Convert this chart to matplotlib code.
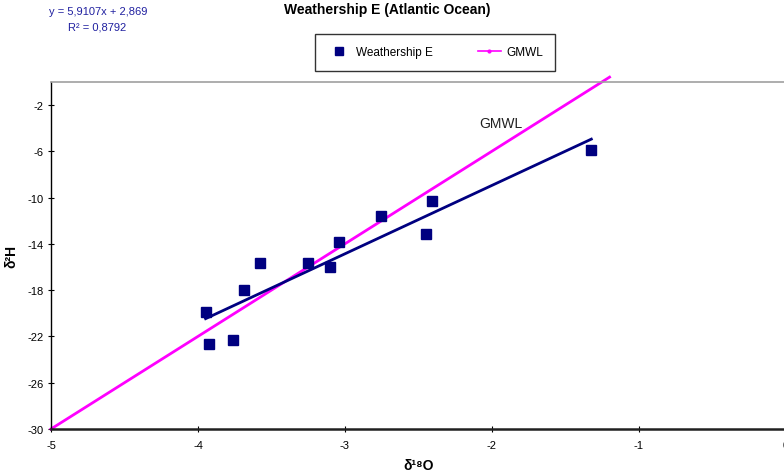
import matplotlib
matplotlib.use('Agg')
import matplotlib.pyplot as plt
from matplotlib.lines import Line2D
import numpy as np

# data
d18o = [-3.948, -3.923, -3.760, -3.689, -3.576, -3.250, -3.100, -3.039,
        -2.753, -2.449, -2.410, -1.324]
d2h = [-19.87, -22.66, -22.29, -17.97, -15.64, -15.64, -16.04, -13.85,
       -11.63, -13.13, -10.34, -5.91]
gmwl_x = [-5.0, -1.2]
slope, intercept = 5.9107, 2.869
r2 = 0.8792
yticks = [-30, -26, -22, -18, -14, -10, -6, -2]
xticks = [-5, -4, -3, -2, -1, 0]

navy = '#000080'
magenta = '#FF00FF'
fam = ['Liberation Sans', 'DejaVu Sans']
plt.rcParams['font.family'] = fam
plt.rcParams['axes.unicode_minus'] = False

fig = plt.figure(figsize=(7.84, 4.77), dpi=100)
ax = fig.add_axes([0.065, 0.0985, 0.9375, 0.728])

# GMWL: d2H = 8 * d18O + 10
gx = np.array(gmwl_x)
ax.plot(gx, 8 * gx + 10, color=magenta, lw=2, clip_on=False, zorder=2)

# linear trend of the ship data
tx = np.array([min(d18o), max(d18o)])
ax.plot(tx, slope * tx + intercept, color=navy, lw=2, zorder=3)

ax.plot(d18o, d2h, 's', color=navy, ms=7, zorder=4)

ax.set_xlim(-5, 0)
ax.set_ylim(-30, 0)
ax.set_xticks(xticks)
ax.set_yticks(yticks)
ax.tick_params(labelsize=8, length=4, direction='inout')
ax.tick_params(axis='x', pad=6)
ax.spines['right'].set_visible(False)
ax.spines['top'].set_color('#A0A0A0')
ax.spines['top'].set_linewidth(1.2)
ax.spines['left'].set_linewidth(1)
ax.spines['bottom'].set_linewidth(1.8)
ax.spines['bottom'].set_color('#202020')

ax.set_xlabel('δ¹⁸O', fontsize=10, fontweight='bold', labelpad=6)
ax.set_ylabel('δ²H', fontsize=10, fontweight='bold', labelpad=6)

ax.text(-1.94, -3.6, 'GMWL', fontsize=10, ha='center', va='center', color='#202020')

fig.text(0.494, 0.978, 'Weathership E (Atlantic Ocean)', fontsize=10,
         fontweight='bold', ha='center', va='center')
fig.text(0.125, 0.975, 'y = 5,9107x + 2,869', fontsize=8, color='#2020A0',
         ha='center', va='center')
fig.text(0.124, 0.943, 'R² = 0,8792', fontsize=8, color='#2020A0',
         ha='center', va='center')

handles = [Line2D([], [], ls='none', marker='s', color=navy, ms=6),
           Line2D([], [], color=magenta, lw=1.2, marker='.', ms=4)]
leg = fig.legend(handles, ['Weathership E', 'GMWL'], ncol=2, fontsize=8.5,
                 loc='center', bbox_to_anchor=(0.555, 0.888),
                 frameon=True, fancybox=False, borderpad=1.05,
                 columnspacing=3.8, handlelength=2.0, handletextpad=0.4)
leg.get_frame().set_edgecolor('black')
leg.get_frame().set_linewidth(1)

fig.savefig('out.png', dpi=100)
